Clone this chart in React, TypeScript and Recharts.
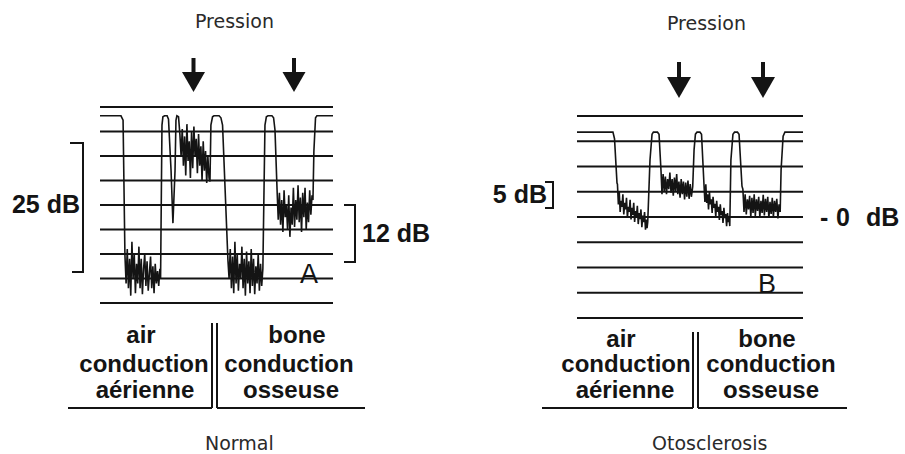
import { LineChart, Line, XAxis, YAxis, ReferenceLine } from "recharts";

// time is 0..100 across the recording strip, level in dB
const normalGrid = [0, 5, 10, 15, 20, 25, 30, 35, 40];
const otoGrid = [-20, -15, -10, -5, 0, 5, 10, 15, 20];

const normalTrace: [number, number][] = [
  [0, 38.2], [9, 38.2], [9.9, 37.3], [10.7, 9.8],
  [11.2, 4], [11.7, 11], [12.2, 3], [12.7, 9], [13.2, 1.5], [13.7, 12.5], [14.2, 5], [14.7, 10],
  [15.2, 2], [15.7, 8], [16.2, 4], [16.7, 11.5], [17.2, 3], [17.7, 9], [18.2, 1.8], [18.7, 7],
  [19.2, 10], [19.7, 3.5], [20.2, 8.5], [20.7, 2.5], [21.2, 6], [21.7, 9.5], [22.2, 3], [22.7, 7.5],
  [23.2, 2], [23.7, 8], [24.2, 4], [24.7, 6.5], [25.2, 3.5], [25.7, 7], [26.0, 5],
  [26.6, 36.3], [27.0, 38], [27.7, 38.2], [28.8, 38.2], [29.4, 37.5], [30.5, 27], [31.3, 16.3],
  [32.2, 27], [32.6, 37.3], [33, 38.2], [33.7, 38], [34.3, 34.3],
  [34.8, 30], [35.3, 35.5], [35.8, 28], [36.3, 34], [36.8, 26], [37.3, 36.5], [37.8, 29], [38.3, 33],
  [38.8, 25.5], [39.3, 35], [39.8, 27.5], [40.3, 36], [40.8, 30], [41.3, 33.5], [41.8, 26.5], [42.3, 34.5],
  [42.8, 28], [43.3, 32], [43.8, 25], [44.3, 33], [44.8, 27], [45.3, 31], [45.8, 24.5], [46.3, 30],
  [46.8, 25.5], [47.2, 24.8],
  [47.6, 36.3], [48.3, 38], [48.9, 38.2], [51.1, 38.2], [51.9, 37.8], [52.6, 36.3], [54.9, 8.8],
  [55.4, 5], [55.9, 11], [56.4, 3], [56.9, 9.5], [57.4, 2], [57.9, 12.5], [58.4, 4], [58.9, 10],
  [59.4, 2.5], [59.9, 8], [60.4, 5], [60.9, 11.5], [61.4, 3], [61.9, 9], [62.4, 1.5], [62.9, 10.5],
  [63.4, 4], [63.9, 8.5], [64.4, 2], [64.9, 11], [65.4, 3.5], [65.9, 9], [66.4, 1.8], [66.9, 7.5],
  [67.4, 4], [67.9, 10], [68.4, 2.5], [68.9, 8], [69.4, 3.5], [69.9, 7],
  [70.8, 36.3], [71.4, 38], [72.1, 38.2], [73.8, 38.2], [74.5, 37.8], [75.1, 35.3], [76, 23],
  [76.5, 17], [77, 22.5], [77.5, 16], [78, 21], [78.5, 14.5], [79, 23], [79.5, 17.5], [80, 20],
  [80.5, 15], [81, 22], [81.5, 13.5], [82, 19.5], [82.5, 16], [83, 23.5], [83.5, 15.5], [84, 21],
  [84.5, 17], [85, 24], [85.5, 16.5], [86, 21.5], [86.5, 14.5], [87, 22.5], [87.5, 17.5], [88, 23.5],
  [88.5, 15], [89, 20.5], [89.5, 16.5], [90, 23], [90.5, 18], [91, 22], [91.4, 21],
  [91.8, 31], [92.5, 37.8], [93.1, 38.2], [100, 38.2],
];

const otoTrace: [number, number][] = [
  [0, 16.8], [15.9, 16.8], [16.6, 15.5], [17.7, 6.7],
  [17.9, 6.5], [18.3, 2.5], [18.7, 5], [19.1, 1], [19.5, 3.2], [19.9, 2], [20.3, 4.5], [20.7, 0.5],
  [21.1, 2.8], [21.5, 1.5], [21.9, 3.8], [22.3, -0.2], [22.7, 2], [23.1, 1], [23.5, 3.4], [23.9, -0.5],
  [24.3, 1.8], [24.7, 0.4], [25.1, 2.8], [25.5, -1], [25.9, 1.2], [26.3, 0], [26.7, 2.2], [27.1, -1.4],
  [27.5, 0.8], [27.9, -0.4], [28.3, 1.5], [28.7, -2], [29.1, 0.3], [29.5, -1], [29.9, 1], [30.3, -2.5],
  [30.7, -0.5], [31.0, -2.2], [31.3, -1],
  [32.3, 11.3], [33.2, 16.4], [33.8, 16.8], [35.6, 16.8], [36.3, 16.4], [37.2, 8.9],
  [37.6, 4.5], [38.1, 8.5], [38.6, 5], [39.1, 8], [39.6, 4.5], [40.1, 7.5], [40.6, 5.5], [41.1, 8.8],
  [41.6, 4.8], [42.1, 7.5], [42.6, 4.2], [43.1, 7.8], [43.6, 5], [44.1, 8.5], [44.6, 4.5], [45.1, 7],
  [45.6, 3.8], [46.1, 7.5], [46.6, 4.5], [47.1, 7], [47.6, 3.5], [48.1, 6.8], [48.6, 4], [49.1, 7.2],
  [49.6, 3.6], [50.1, 6.5], [50.6, 4], [51.2, 6],
  [51.8, 13.3], [52.4, 16.4], [53.1, 16.8], [54.4, 16.8], [55.1, 16.4], [56.2, 6.3],
  [56.6, 3], [57, 6.5], [57.4, 2.8], [57.8, 4.5], [58.2, 1.5], [58.6, 5], [59, 2.5], [59.4, 3.5],
  [59.8, 0.8], [60.2, 4], [60.6, 1.8], [61, 2.6], [61.4, 0], [61.8, 3.2], [62.2, 1], [62.6, 2],
  [63, -0.6], [63.4, 2.5], [63.8, 0.4], [64.2, 1.2], [64.6, -1.2], [65, 1.8], [65.4, -0.2], [65.8, 0.6],
  [66.2, -1.8], [66.6, 0.8], [67, -1], [67.3, -0.2], [67.6, -1.8],
  [68.1, 11.3], [69, 16.4], [69.7, 16.8], [71, 16.8], [71.7, 16.4], [73, 6.1],
  [73.4, 5.5], [73.9, 1], [74.4, 4.5], [74.9, 0.5], [75.4, 3.5], [75.9, 1.5], [76.4, 4.2], [76.9, 0],
  [77.4, 3.8], [77.9, 0.8], [78.4, 4.5], [78.9, 0.2], [79.4, 3.5], [79.9, 1.2], [80.4, 4], [80.9, 0],
  [81.4, 3.2], [81.9, 0.8], [82.4, 4.4], [82.9, 0.3], [83.4, 3.6], [83.9, 1], [84.4, 4], [84.9, -0.2],
  [85.4, 3], [85.9, 0.6], [86.4, 3.8], [86.9, 0], [87.4, 3.2], [87.9, 1], [88.4, 3.6], [88.9, -0.3],
  [89.4, 2.5], [89.9, 1],
  [90.3, 9.3], [91.2, 16], [92, 16.8], [100, 16.8],
];

const normalData = normalTrace.map(([t, v]) => ({ t, v }));
const otoData = otoTrace.map(([t, v]) => ({ t, v }));

const INK = "#141414";
const bold = { fontFamily: "'Liberation Sans', Arial, sans-serif", fontWeight: 700, fill: INK };
const thin = { fontFamily: "'DejaVu Sans', sans-serif", fontWeight: 400, fill: "#2a2a2a", fontSize: 19 };

const Arrow = ({ x, top, mid, bottom, half }: any) => (
  <g fill={INK}>
    <rect x={x - 2} y={top} width={4} height={mid - top + 2} />
    <polygon points={`${x - half},${mid} ${x + half},${mid} ${x},${bottom}`} />
  </g>
);

const Strip = ({ data, grid, domain, width, height, margin, style }: any) => (
  <div style={{ position: "absolute", ...style }}>
    <LineChart width={width} height={height} data={data} margin={margin}>
      <XAxis type="number" dataKey="t" domain={[0, 100]} allowDataOverflow hide />
      <YAxis type="number" domain={domain} allowDataOverflow hide />
      {grid.map((g: number) => (
        <ReferenceLine key={g} y={g} stroke={INK} strokeWidth={2} />
      ))}
      <Line
        type="linear"
        dataKey="v"
        stroke={INK}
        strokeWidth={1.6}
        dot={false}
        isAnimationActive={false}
      />
    </LineChart>
  </div>
);

export default function App() {
  return (
    <div style={{ position: "absolute", left: 0, top: 0, width: 905, height: 454, background: "#fff", overflow: "hidden" }}>
      <Strip
        data={normalData}
        grid={normalGrid}
        domain={[0, 40]}
        width={453}
        height={454}
        margin={{ top: 107, right: 120, bottom: 151, left: 100 }}
        style={{ left: 0, top: 0 }}
      />
      <Strip
        data={otoData}
        grid={otoGrid}
        domain={[-20, 20]}
        width={452}
        height={454}
        margin={{ top: 116, right: 102, bottom: 136, left: 124 }}
        style={{ left: 453, top: 0 }}
      />
      <svg width={905} height={454} style={{ position: "absolute", left: 0, top: 0, pointerEvents: "none" }}>
        {/* titles */}
        <text x={195} y={28} {...thin}>Pression</text>
        <text x={667} y={30} {...thin}>Pression</text>
        <text x={205} y={450} {...thin}>Normal</text>
        <text x={652} y={450} {...thin}>Otosclerosis</text>

        <Arrow x={193.5} top={58} mid={72} bottom={92} half={11.5} />
        <Arrow x={294} top={58} mid={72} bottom={92} half={11.5} />
        <Arrow x={679} top={62} mid={77} bottom={98} half={12} />
        <Arrow x={763} top={62} mid={77} bottom={98} half={12} />

        {/* brackets */}
        <g stroke={INK} strokeWidth={2} fill="none">
          <polyline points="70,143 83,143 83,272 72,272" />
          <polyline points="344,205 355,205 355,262 344,262" />
          <polyline points="545,182 553,182 553,208 545,208" />
        </g>
        <text x={80} y={213} fontSize={25} textAnchor="end" {...bold}>25 dB</text>
        <text x={362} y={242} fontSize={25} {...bold}>12 dB</text>
        <text x={547} y={203} fontSize={25} textAnchor="end" {...bold}>5 dB</text>
        <text x={820} y={226} fontSize={25} {...bold}>-</text>
        <text x={836} y={226} fontSize={25} {...bold}>0</text>
        <text x={866} y={226} fontSize={25} {...bold}>dB</text>
        <text x={300} y={283} fontSize={27} fontFamily="'Liberation Sans', Arial, sans-serif" fill={INK}>A</text>
        <text x={758} y={293} fontSize={27} fontFamily="'Liberation Sans', Arial, sans-serif" fill={INK}>B</text>

        {/* conduction tables */}
        <g stroke={INK} strokeWidth={2} fill="none">
          <line x1={68} y1={408} x2={212} y2={408} />
          <line x1={217} y1={408} x2={365} y2={408} />
          <line x1={212} y1={323} x2={212} y2={408} />
          <line x1={217} y1={323} x2={217} y2={408} />
          <line x1={542} y1={408} x2={693} y2={408} />
          <line x1={698} y1={408} x2={847} y2={408} />
          <line x1={693} y1={332} x2={693} y2={408} />
          <line x1={698} y1={332} x2={698} y2={408} />
        </g>
        <g fontSize={24} textAnchor="middle" {...bold}>
          <text x={141} y={343}>air</text>
          <text x={144} y={372}>conduction</text>
          <text x={145} y={398}>aérienne</text>
          <text x={297} y={343}>bone</text>
          <text x={289} y={372}>conduction</text>
          <text x={291} y={398}>osseuse</text>
          <text x={621} y={347}>air</text>
          <text x={626} y={372}>conduction</text>
          <text x={625} y={398}>aérienne</text>
          <text x={767} y={347}>bone</text>
          <text x={771} y={372}>conduction</text>
          <text x={771} y={398}>osseuse</text>
        </g>
      </svg>
    </div>
  );
}
